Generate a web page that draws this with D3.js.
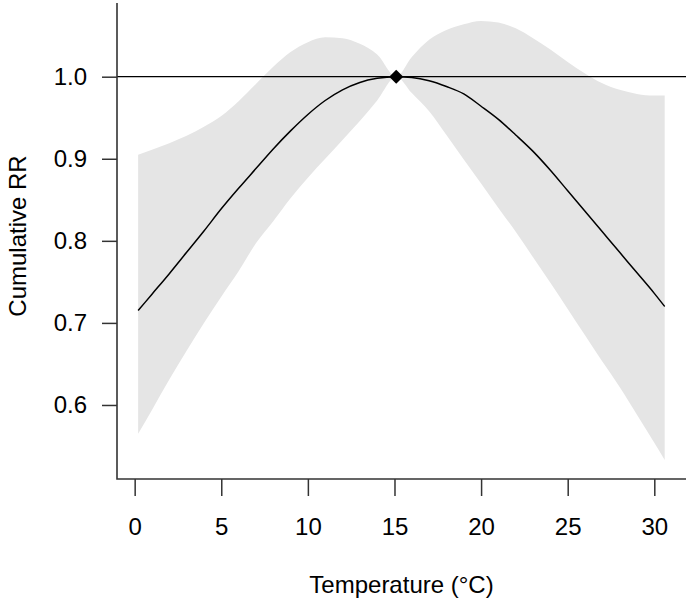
<!DOCTYPE html>
<html>
<head>
<meta charset="utf-8">
<script src="https://cdn.jsdelivr.net/npm/d3@7"></script>
<style>
  body { margin: 0; background: #fff; }
  svg text { font-family: "Liberation Sans", Arial, sans-serif; fill: #000; }
</style>
</head>
<body>
<div id="graf"></div>
<script>
// datos
temps = [0.2, 1, 2, 3, 4, 5, 6, 7, 8, 9, 10, 11, 12, 13, 14, 15.1,
         16, 17, 18, 19, 20, 21, 22, 23, 24, 25, 26, 27, 28, 29, 30, 30.6]
rr    = [0.715, 0.735, 0.760, 0.786, 0.812, 0.839, 0.864, 0.888, 0.912, 0.934, 0.954, 0.971, 0.984, 0.993, 0.998, 1.0,
         0.999, 0.995, 0.988, 0.979, 0.964, 0.948, 0.929, 0.909, 0.886, 0.861, 0.836, 0.811, 0.786, 0.761, 0.736, 0.720]
upper = [0.905, 0.911, 0.919, 0.928, 0.939, 0.952, 0.970, 0.991, 1.012, 1.030, 1.042, 1.048, 1.047, 1.040, 1.027, 1.0,
         1.024, 1.045, 1.057, 1.064, 1.068, 1.066, 1.059, 1.047, 1.033, 1.018, 1.004, 0.992, 0.984, 0.979, 0.977, 0.977]
lower = [0.565, 0.594, 0.631, 0.666, 0.700, 0.732, 0.763, 0.797, 0.824, 0.852, 0.877, 0.900, 0.923, 0.946, 0.971, 1.0,
         0.980, 0.958, 0.929, 0.899, 0.870, 0.840, 0.811, 0.780, 0.749, 0.717, 0.685, 0.653, 0.622, 0.588, 0.554, 0.533]
refTemp = 15.1
xTicks = [0, 5, 10, 15, 20, 25, 30]
yTicks = [0.6, 0.7, 0.8, 0.9, 1.0]

ancho_total = 688
alto_total = 602

svg = d3.select('#graf').append('svg')
        .attr('width', ancho_total)
        .attr('height', alto_total)

x = d3.scaleLinear().domain([-1.02, 31.83]).range([117, 686])
y = d3.scaleLinear().domain([0.5098, 1.0898]).range([479, 3])

datos = temps.map((t, i) => ({ t: t, rr: rr[i], lo: lower[i], hi: upper[i] }))

// banda de confianza
area = d3.area()
         .x(d => x(d.t))
         .y0(d => y(d.lo))
         .y1(d => y(d.hi))
         .curve(d3.curveMonotoneX)

svg.append('path')
   .datum(datos)
   .attr('d', area)
   .attr('fill', '#e5e5e5')

// linea de referencia en 1
svg.append('line')
   .attr('x1', x.range()[0]).attr('x2', x.range()[1])
   .attr('y1', y(1)).attr('y2', y(1))
   .attr('stroke', '#000')
   .attr('stroke-width', 1.3)

// curva central
linea = d3.line()
          .x(d => x(d.t))
          .y(d => y(d.rr))
          .curve(d3.curveMonotoneX)

svg.append('path')
   .datum(datos)
   .attr('d', linea)
   .attr('fill', 'none')
   .attr('stroke', '#000')
   .attr('stroke-width', 1.5)

// rombo en la temperatura de referencia
svg.append('path')
   .attr('d', d3.symbol(d3.symbolSquare).size(100)())
   .attr('transform', `translate(${x(refTemp)}, ${y(1)}) rotate(45)`)
   .attr('fill', '#000')

// ejes (estilo R, caja en L)
xAxisCall = d3.axisBottom(x).tickValues(xTicks).tickSize(17).tickPadding(22).tickSizeOuter(0)
xAxisGroup = svg.append('g')
                .attr('transform', `translate(0, ${y.range()[0]})`)
                .call(xAxisCall)
xAxisGroup.select('.domain').remove()
xAxisGroup.selectAll('line').attr('stroke', '#333').attr('stroke-width', 1.5)
xAxisGroup.selectAll('text').style('font-size', '24px').attr('fill', '#000')

yAxisCall = d3.axisLeft(y).tickValues(yTicks).tickSize(15).tickPadding(15)
              .tickFormat(d3.format('.1f'))
yAxisGroup = svg.append('g')
                .attr('transform', `translate(${x.range()[0]}, 0)`)
                .call(yAxisCall)
yAxisGroup.select('.domain').remove()
yAxisGroup.selectAll('line').attr('stroke', '#333').attr('stroke-width', 1.5)
yAxisGroup.selectAll('text').style('font-size', '24px').attr('fill', '#000')

// caja en L
svg.append('path')
   .attr('d', `M${x.range()[0]},${y.range()[1]}V${y.range()[0]}H${x.range()[1]}`)
   .attr('fill', 'none')
   .attr('stroke', '#333')
   .attr('stroke-width', 1.6)

// titulos
svg.append('text')
   .attr('x', (x.range()[0] + x.range()[1]) / 2)
   .attr('y', 593)
   .attr('text-anchor', 'middle')
   .style('font-size', '24px')
   .text('Temperature (°C)')

svg.append('text')
   .attr('transform', 'translate(26, 236) rotate(-90)')
   .attr('text-anchor', 'middle')
   .style('font-size', '24px')
   .text('Cumulative RR')
</script>
</body>
</html>
